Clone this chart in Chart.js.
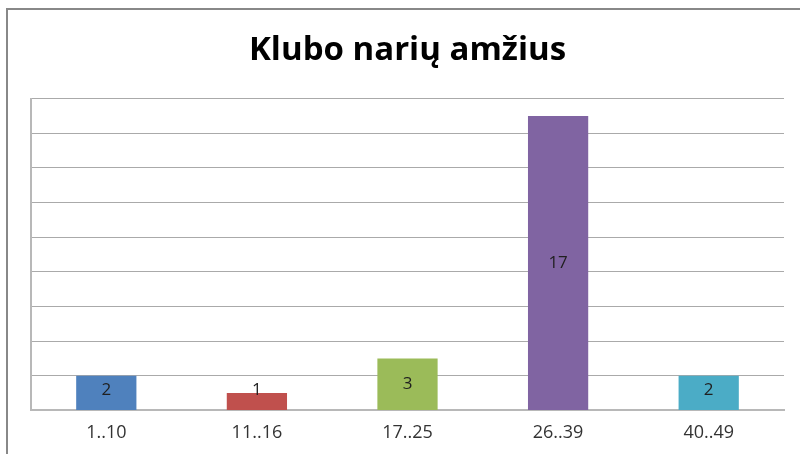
<!DOCTYPE html>
<html>
<head>
<meta charset="utf-8">
<script src="https://cdn.jsdelivr.net/npm/chart.js@4"></script>
<style>
  html, body { margin: 0; padding: 0; background: #fff; }
  #wrap { width: 800px; height: 454px; }
</style>
</head>
<body>
<div id="wrap"><canvas id="ageChart" width="800" height="454"></canvas></div>
<script>
const title = 'Klubo narių amžius';
const ageGroups = ['1..10', '11..16', '17..25', '26..39', '40..49'];
const members = [2, 1, 3, 17, 2];
const barColors = ['#4F81BD', '#C0504D', '#9BBB59', '#8064A2', '#4BACC6'];

// outer frame like the spreadsheet chart box
const frame = {
  id: 'frame',
  beforeDraw(chart) {
    const ctx = chart.ctx;
    ctx.save();
    ctx.strokeStyle = '#888888';
    ctx.lineWidth = 2;
    ctx.strokeRect(7, 9, chart.width + 10, chart.height + 10);
    ctx.restore();
  }
};

// value labels inside the bars
const barLabels = {
  id: 'barLabels',
  afterDatasetsDraw(chart) {
    const ctx = chart.ctx;
    const meta = chart.getDatasetMeta(0);
    ctx.save();
    ctx.font = '17px "Open Sans", Lato, sans-serif';
    ctx.fillStyle = '#1f1f1f';
    ctx.textAlign = 'center';
    ctx.textBaseline = 'middle';
    meta.data.forEach((bar, i) => {
      const mid = (bar.y + bar.base) / 2;
      ctx.fillText(String(members[i]), bar.x, Math.min(mid, bar.base - 20));
    });
    ctx.restore();
  }
};

new Chart(document.getElementById('ageChart'), {
  type: 'bar',
  data: {
    labels: ageGroups,
    datasets: [{
      data: members,
      backgroundColor: barColors,
      borderWidth: 0,
      barPercentage: 0.4,
      categoryPercentage: 1
    }]
  },
  options: {
    responsive: false,
    animation: false,
    layout: { padding: { left: 31, right: 16, top: 0, bottom: 6 } },
    plugins: {
      legend: { display: false },
      tooltip: { enabled: false },
      title: {
        display: true,
        text: title,
        color: '#000',
        font: { family: '"Open Sans", Lato, sans-serif', size: 33, weight: 'bold' },
        padding: { top: 31, bottom: 28 }
      }
    },
    scales: {
      x: {
        grid: { display: false },
        border: { display: true, color: '#b8b8b8', width: 2 },
        ticks: {
          color: '#333333',
          padding: 4,
          font: { family: '"Open Sans", Lato, sans-serif', size: 18 }
        }
      },
      y: {
        min: 0,
        max: 18,
        ticks: { display: false, stepSize: 2 },
        grid: { color: '#aaaaaa', lineWidth: 1, drawTicks: false },
        border: { display: true, color: '#b8b8b8', width: 2 }
      }
    }
  },
  plugins: [frame, barLabels]
});
</script>
</body>
</html>
